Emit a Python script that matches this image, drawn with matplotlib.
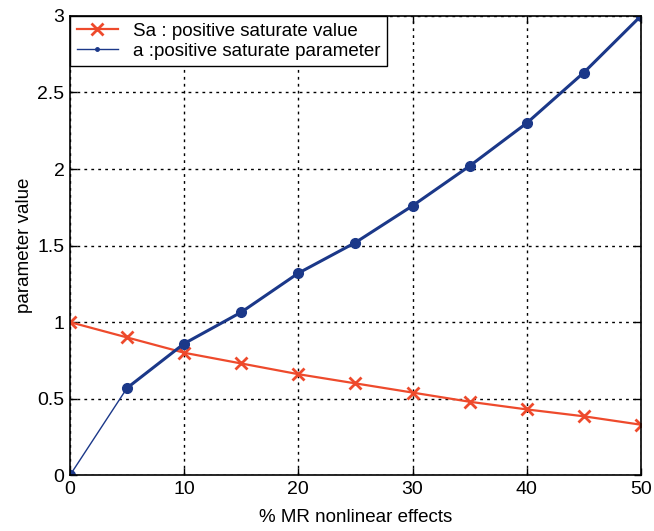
import numpy as np
import matplotlib.pyplot as plt

plt.rcParams['font.family'] = ['Liberation Sans', 'DejaVu Sans']

# % MR nonlinear effects
x = [0, 5, 10, 15, 20, 25, 30, 35, 40, 45, 50]
# Sa : positive saturate value
sa = [1.0, 0.90, 0.80, 0.73, 0.66, 0.60, 0.54, 0.48, 0.43, 0.385, 0.33]
# a : positive saturate parameter
a = [0.0, 0.57, 0.86, 1.065, 1.32, 1.52, 1.76, 2.02, 2.30, 2.63, 3.0]

red = '#ee4a2c'
blue = '#1b3889'

fig = plt.figure(figsize=(6.54, 5.31), dpi=100)
ax = fig.add_axes([0.107, 0.105, 0.873, 0.865])

ax.plot(x, sa, color=red, lw=1.6, marker='x', ms=8, mew=2,
        label='Sa : positive saturate value')
ax.plot(x, a, color=blue, lw=1.0, marker='.', ms=5,
        label='a :positive saturate parameter')
# heavier trace from the second point on, dots on every point
ax.plot(x[1:], a[1:], color=blue, lw=2.2)
ax.plot(x, a, color=blue, lw=0, marker='o', ms=7)

ax.set_xlim(0, 50)
ax.set_ylim(0, 3)
ax.set_xticks([0, 10, 20, 30, 40, 50])
ax.set_yticks([0, 0.5, 1, 1.5, 2, 2.5, 3])
ax.set_yticklabels(['0', '0.5', '1', '1.5', '2', '2.5', '3'])
ax.tick_params(direction='in', top=True, right=True, labelsize=14,
               length=5, width=1, pad=4)
ax.grid(True, color='black', linestyle=(0, (2, 3)), lw=1)
for s in ax.spines.values():
    s.set_linewidth(1.2)
    s.set_zorder(5)

ax.set_xlabel('% MR nonlinear effects', fontsize=13.5, labelpad=8)
ax.set_ylabel('parameter value', fontsize=13.5, labelpad=3)

leg = ax.legend(loc='upper left', borderaxespad=0, fontsize=13.5,
                fancybox=False, framealpha=1, edgecolor='black',
                handlelength=2.2, borderpad=0.35, labelspacing=0.15)
leg.get_frame().set_linewidth(1.0)

fig.savefig('out.png', dpi=100)
